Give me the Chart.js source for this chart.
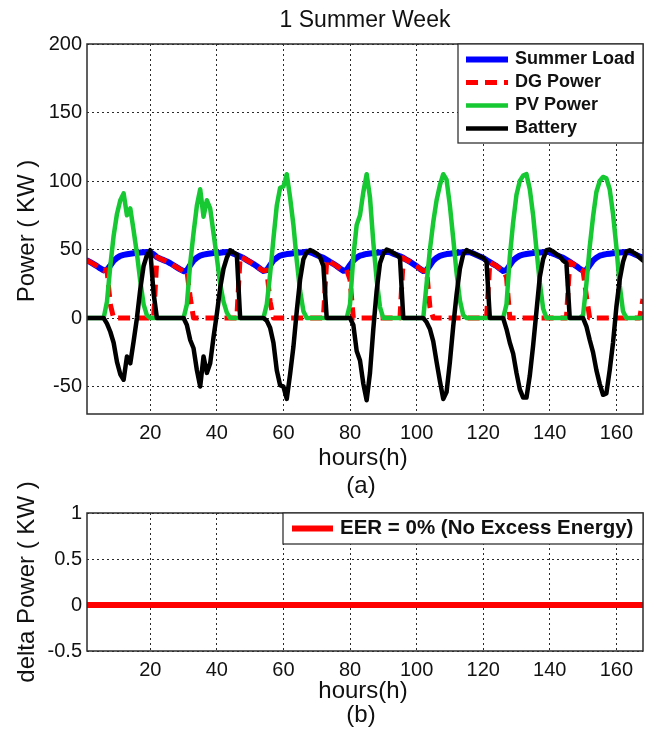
<!DOCTYPE html>
<html>
<head>
<meta charset="utf-8">
<title>1 Summer Week</title>
<script src="https://cdn.jsdelivr.net/npm/chart.js@4"></script>
<style>
  html, body { margin: 0; padding: 0; background: #fff; }
  #wrap { position: relative; width: 656px; height: 734px; }
  canvas { position: absolute; left: 0; }
  #powerChart { top: 0; }
  #deltaChart { top: 480px; }
</style>
</head>
<body>
<div id="wrap">
  <canvas id="powerChart" width="656" height="500"></canvas>
  <canvas id="deltaChart" width="656" height="254"></canvas>
</div>
<script>
// Hour index of the simulated week (1 .. 168)
const hours = Array.from({ length: 168 }, (_, i) => i + 1);

// Axis tick values
const hourTicks = [20, 40, 60, 80, 100, 120, 140, 160];
const powerTicks = [-50, 0, 50, 100, 150, 200];
const deltaTicks = [-0.5, 0, 0.5, 1];

// Series labels
const seriesNames = ['Summer Load', 'DG Power', 'PV Power', 'Battery'];
const deltaName = 'EER = 0% (No Excess Energy)';

// Summer load demand, kW (one row per day)
const summerLoad = [
  42, 40.8, 39.4, 37.9, 36.2, 34.8, 35.2, 38.4, 41.8, 43.9, 45.4, 46.1, 46.6, 47, 47.3, 47.6, 47.8, 48.1, 48.3, 48.1, 46.5, 44.5, 43.3, 42.3,
  41.3, 40, 38.5, 37, 35.5, 34.2, 34.6, 38.6, 42, 44.1, 45.5, 46.3, 46.8, 47.1, 47.4, 47.5, 47.7, 48, 48.2, 48, 47, 46, 44.9, 43.8,
  42.3, 40.9, 39.4, 37.8, 36, 34.4, 35, 38.5, 42.1, 44, 45.6, 46.2, 46.7, 47, 47.3, 47.6, 47.9, 48.1, 48.4, 48.1, 47.2, 46.1, 45, 44,
  42.5, 41, 39.6, 38, 36.2, 34.5, 35.1, 38.7, 42, 44.1, 45.5, 46.2, 46.8, 47.1, 47.4, 47.6, 47.8, 48, 48.3, 48, 47, 46, 45.1, 44,
  42.4, 41.1, 39.5, 37.9, 36, 34.3, 34.9, 38.4, 41.9, 44, 45.4, 46.1, 46.7, 47, 47.3, 47.5, 47.8, 48.1, 48.3, 48.1, 47.1, 46, 45, 43.9,
  42.3, 40.9, 39.4, 38, 36.1, 34.4, 35, 38.6, 42.1, 44.1, 45.6, 46.3, 46.8, 47.1, 47.4, 47.6, 47.9, 48.1, 48.3, 48, 47, 46.1, 45, 44,
  42.5, 41, 39.5, 37.9, 36, 34.5, 35.1, 38.5, 42, 44, 45.5, 46.2, 46.7, 47, 47.3, 47.5, 47.8, 48, 48.2, 48, 47.1, 46, 45, 44
];

// Diesel generator output, kW
const dgPower = [
  42, 40.8, 39.4, 37.9, 36.2, 34.8, 35.2, 10, 0, 0, 0, 0, 0, 0, 0, 0, 0, 0, 0, 0, 0, 44.5, 43.3, 42.3,
  41.3, 40, 38.5, 37, 35.5, 34.2, 34.6, 15, 0, 0, 0, 0, 0, 0, 0, 0, 0, 0, 0, 0, 0, 0, 44.9, 43.8,
  42.3, 40.9, 39.4, 37.8, 36, 34.4, 35, 12, 0, 0, 0, 0, 0, 0, 0, 0, 0, 0, 0, 0, 0, 0, 0, 0,
  42.5, 41, 39.6, 38, 36.2, 34.5, 35.1, 28, 0, 0, 0, 0, 0, 0, 0, 0, 0, 0, 0, 0, 0, 0, 0, 44,
  42.4, 41.1, 39.5, 37.9, 36, 34.3, 34.9, 8, 0, 0, 0, 0, 0, 0, 0, 0, 0, 0, 0, 0, 0, 0, 0, 0,
  0, 40.9, 39.4, 38, 36.1, 34.4, 30, 0, 0, 0, 0, 0, 0, 0, 0, 0, 0, 0, 0, 0, 0, 0, 0, 0,
  0, 41, 39.5, 37.9, 36, 34.5, 16, 0, 0, 0, 0, 0, 0, 0, 0, 0, 0, 0, 0, 0, 0, 0, 0, 14
];

// Photovoltaic output, kW
const pvPower = [
  0, 0, 0, 0, 0, 0, 12, 38, 60, 76, 86, 91, 75, 80, 64, 47, 27, 10, 2, 0, 0, 0, 0, 0,
  0, 0, 0, 0, 0, 0, 10, 40, 62, 82, 94, 74, 86, 80, 62, 44, 25, 12, 4, 0, 0, 0, 0, 0,
  0, 0, 0, 0, 0, 0, 10, 32, 58, 82, 95, 96, 105, 88, 68, 42, 20, 5, 0, 0, 0, 0, 0, 0,
  0, 0, 0, 0, 0, 0, 0, 10, 45, 68, 75, 92, 105, 88, 55, 28, 8, 0, 0, 0, 0, 0, 0, 0,
  0, 0, 0, 0, 0, 0, 25, 50, 70, 86, 97, 105, 101, 82, 58, 33, 13, 2, 0, 0, 0, 0, 0, 0,
  0, 0, 0, 0, 0, 0, 10, 45, 70, 90, 100, 104, 105, 94, 75, 50, 26, 7, 0, 0, 0, 0, 0, 0,
  0, 0, 0, 0, 0, 2, 25, 52, 74, 92, 100, 103, 102, 94, 76, 52, 24, 5, 0, 0, 0, 0, 0, 0
];

// Battery power, kW (positive = discharging, negative = charging)
const batteryPower = [
  0, 0, 0, 0, 0, 0, -4, -10, -18, -32, -41, -45, -28, -33, -17, 0, 21, 38, 46, 49.5, 18, 0, 0, 0,
  0, 0, 0, 0, 0, 0, -5, -16, -22, -38, -50, -28, -40, -33, -14, 3, 22, 36, 44, 49.5, 48, 46.5, 0, 0,
  0, 0, 0, 0, 0, 0, -2, -7, -18, -38, -49, -50, -59, -41, -21, 5, 28, 43, 48, 49.6, 48.5, 47, 44.5, 38,
  0, 0, 0, 0, 0, 0, 0, 0, -5, -24, -31, -48, -60, -40, -8, 20, 40, 47, 50, 49, 47.5, 46, 44, 0,
  0, 0, 0, 0, 0, 0, -3, -8, -17, -32, -46, -59, -54, -32, -6, 17, 36, 46.5, 49.6, 48.3, 47.3, 46.2, 45, 43.9,
  41, 0, 0, 0, 0, 0, -8, -18, -26, -40, -52, -58, -58, -42, -20, 5, 30, 43, 49.5, 50, 48.5, 46.5, 45, 42,
  40, 0, 0, 0, 0, 0, -6, -16, -25, -38, -48, -56, -55, -38, -18, 8, 28, 41, 48.5, 49.5, 48, 46.5, 44, 42
];

// Power balance error, kW
const deltaPower = [
  0, 0, 0, 0, 0, 0, 0, 0, 0, 0, 0, 0, 0, 0, 0, 0, 0, 0, 0, 0, 0, 0, 0, 0,
  0, 0, 0, 0, 0, 0, 0, 0, 0, 0, 0, 0, 0, 0, 0, 0, 0, 0, 0, 0, 0, 0, 0, 0,
  0, 0, 0, 0, 0, 0, 0, 0, 0, 0, 0, 0, 0, 0, 0, 0, 0, 0, 0, 0, 0, 0, 0, 0,
  0, 0, 0, 0, 0, 0, 0, 0, 0, 0, 0, 0, 0, 0, 0, 0, 0, 0, 0, 0, 0, 0, 0, 0,
  0, 0, 0, 0, 0, 0, 0, 0, 0, 0, 0, 0, 0, 0, 0, 0, 0, 0, 0, 0, 0, 0, 0, 0,
  0, 0, 0, 0, 0, 0, 0, 0, 0, 0, 0, 0, 0, 0, 0, 0, 0, 0, 0, 0, 0, 0, 0, 0,
  0, 0, 0, 0, 0, 0, 0, 0, 0, 0, 0, 0, 0, 0, 0, 0, 0, 0, 0, 0, 0, 0, 0, 0
];

const FONT = '"Liberation Sans", Arial, Helvetica, sans-serif';
const TEXT = '#111';

const toPoints = (vals) => vals.map((v, i) => ({ x: hours[i], y: v }));

function lineSet(label, vals, color, width, order, dash) {
  return {
    label, data: toPoints(vals), borderColor: color, borderWidth: width,
    borderDash: dash || [], pointRadius: 0, tension: 0, fill: false,
    borderJoinStyle: 'round', borderCapStyle: dash ? 'butt' : 'round', order
  };
}

// Frame, boxed legend inside the plot, axis titles and captions
function decorations(cfg) {
  return {
    id: 'decorations',
    afterDraw(chart) {
      const { ctx, chartArea: a } = chart;
      ctx.save();
      ctx.setLineDash([]);
      ctx.strokeStyle = '#2d2d2d';
      ctx.lineWidth = 1.5;
      ctx.strokeRect(a.left, a.top, a.right - a.left, a.bottom - a.top);

      const L = cfg.legend;
      ctx.fillStyle = '#fff';
      ctx.fillRect(L.x, L.y, L.w, L.h);
      ctx.lineWidth = 1.3;
      ctx.strokeStyle = '#333';
      ctx.strokeRect(L.x, L.y, L.w, L.h);
      ctx.font = `bold ${L.size}px ${FONT}`;
      ctx.textAlign = 'left';
      ctx.textBaseline = 'middle';
      chart.data.datasets.forEach((ds, i) => {
        const y = L.y + L.first + i * L.step;
        ctx.save();
        ctx.strokeStyle = ds.borderColor;
        ctx.lineWidth = ds.borderWidth;
        ctx.setLineDash(ds.borderDash || []);
        ctx.beginPath();
        ctx.moveTo(L.line0, y);
        ctx.lineTo(L.line1, y);
        ctx.stroke();
        ctx.restore();
        ctx.fillStyle = TEXT;
        ctx.fillText(ds.label, L.textX, y);
      });

      ctx.fillStyle = TEXT;
      ctx.textBaseline = 'alphabetic';
      ctx.textAlign = 'center';
      cfg.texts.forEach(t => {
        ctx.font = `${t.size}px ${FONT}`;
        if (t.rotate) {
          ctx.save();
          ctx.translate(t.x, t.y);
          ctx.rotate(-Math.PI / 2);
          ctx.fillText(t.text, 0, 0);
          ctx.restore();
        } else {
          ctx.fillText(t.text, t.x, t.y);
        }
      });
      ctx.restore();
    }
  };
}

function axes(yMin, yMax, yTickVals, yWidth, xHeight) {
  const gridCommon = { color: '#2a2a2a', lineWidth: 1, drawTicks: false };
  const tickFont = { family: FONT, size: 20 };
  return {
    x: {
      type: 'linear', min: 1, max: 168,
      afterBuildTicks: s => { s.ticks = hourTicks.map(v => ({ value: v })); },
      afterFit: s => { s.height = xHeight; },
      grid: gridCommon,
      border: { display: false, dash: [2, 3] },
      ticks: { font: tickFont, color: TEXT, padding: 7, maxRotation: 0, callback: v => String(v) }
    },
    y: {
      type: 'linear', min: yMin, max: yMax,
      afterBuildTicks: s => { s.ticks = yTickVals.map(v => ({ value: v })); },
      afterFit: s => { s.width = yWidth; },
      grid: gridCommon,
      border: { display: false, dash: [2, 3] },
      ticks: { font: tickFont, color: TEXT, padding: 5, callback: v => String(v) }
    }
  };
}

const commonOptions = {
  responsive: false,
  animation: false,
  devicePixelRatio: 1,
  events: [],
  plugins: { legend: { display: false }, tooltip: { enabled: false }, title: { display: false } }
};

new Chart(document.getElementById('powerChart'), {
  type: 'line',
  data: {
    datasets: [
      lineSet(seriesNames[0], summerLoad, '#0000ff', 6, 4),
      lineSet(seriesNames[1], dgPower, '#ff0000', 5, 3, [12, 7]),
      lineSet(seriesNames[2], pvPower, '#16c832', 4.5, 2),
      lineSet(seriesNames[3], batteryPower, '#000000', 4.5, 1)
    ]
  },
  options: {
    ...commonOptions,
    layout: { padding: { left: 0, right: 13, top: 44, bottom: 0 } },
    scales: axes(-70, 200, powerTicks, 87, 86)
  },
  plugins: [decorations({
    legend: { x: 458, y: 44, w: 185, h: 99, first: 15.5, step: 23, line0: 466, line1: 508, textX: 515, size: 18 },
    texts: [
      { text: '1 Summer Week', x: 365, y: 27, size: 23 },
      { text: 'hours(h)', x: 363, y: 465, size: 24 },
      { text: '(a)', x: 361, y: 493, size: 24 },
      { text: 'Power ( KW )', x: 34, y: 231, size: 24, rotate: true }
    ]
  })]
});

new Chart(document.getElementById('deltaChart'), {
  type: 'line',
  data: {
    datasets: [
      lineSet(deltaName, deltaPower, '#ff0000', 6, 1)
    ]
  },
  options: {
    ...commonOptions,
    layout: { padding: { left: 0, right: 13, top: 33, bottom: 0 } },
    scales: axes(-0.5, 1, deltaTicks, 87, 83)
  },
  plugins: [decorations({
    legend: { x: 283, y: 33, w: 360, h: 31, first: 15.5, step: 0, line0: 292, line1: 333, textX: 340, size: 20.5 },
    texts: [
      { text: 'hours(h)', x: 363, y: 218, size: 24 },
      { text: '(b)', x: 361, y: 242, size: 24 },
      { text: 'delta Power ( KW )', x: 34, y: 102, size: 24, rotate: true }
    ]
  })]
});
</script>
</body>
</html>
